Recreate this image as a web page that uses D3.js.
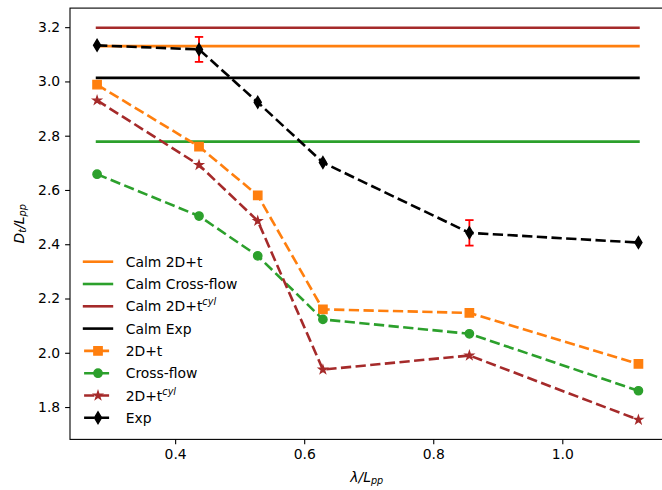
<!DOCTYPE html>
<html>
<head>
<meta charset="utf-8">
<script src="https://cdn.jsdelivr.net/npm/d3@7"></script>
<style>
body { margin: 0; background: #fff; }
svg { display: block; font-family: "DejaVu Sans", sans-serif; }
</style>
</head>
<body>
<div id="chart"></div>
<script>
// Wavelength ratios (x) shared by all series
const lambdas = [0.279, 0.437, 0.528, 0.629, 0.856, 1.118];

// Wave cases
const d2t = [2.988, 2.760, 2.580, 2.160, 2.147, 1.959];
const crossFlow = [2.658, 2.504, 2.357, 2.123, 2.070, 1.860];
const d2tCyl = [2.930, 2.692, 2.486, 1.938, 1.990, 1.753];
const expVals = [3.133, 3.118, 2.923, 2.701, 2.442, 2.406];
const expErr = [null, 0.046, null, null, 0.047, null];

// Calm water reference levels
const calmNames = ["Calm 2D+t", "Calm Cross-flow", "Calm 2D+t^cyl", "Calm Exp"];
const calmVals = [3.130, 2.778, 3.198, 3.013];

const yTicks = [1.8, 2.0, 2.2, 2.4, 2.6, 2.8, 3.0, 3.2];
const xTicks = [0.4, 0.6, 0.8, 1.0];

const width = 662, height = 490;
const fontSize = 13.9;
const lw = 2.6;
const dash = "10.3,4.4";

const colors = {
    orange: "#ff7f0e",
    green: "#2ca02c",
    brown: "#a52a2a",
    black: "#000000"
};

const series = [
    { name: "2D+t", values: d2t, color: colors.orange, marker: "square" },
    { name: "Cross-flow", values: crossFlow, color: colors.green, marker: "circle" },
    { name: "2D+t^cyl", values: d2tCyl, color: colors.brown, marker: "star" },
    { name: "Exp", values: expVals, color: colors.black, marker: "diamond" }
];
const calmColors = [colors.orange, colors.green, colors.brown, colors.black];

// Axis limits with matplotlib-like 5% margins
const xMin = d3.min(lambdas), xMax = d3.max(lambdas);
const xPad = (xMax - xMin) * 0.05;
const allY = calmVals.concat(d2t, crossFlow, d2tCyl, expVals);
const yMin = d3.min(allY), yMax = d3.max(allY);
const yPad = (yMax - yMin) * 0.05;

const plotLeft = 70, plotRight = 665.5, plotTop = 8.1, plotBottom = 439.4;

const x = d3.scaleLinear().domain([xMin - xPad, xMax + xPad]).range([plotLeft, plotRight]);
const y = d3.scaleLinear().domain([yMin - yPad, yMax + yPad]).range([plotBottom, plotTop]);

const svg = d3.select("#chart")
    .append("svg")
    .attr("width", width)
    .attr("height", height);

// Marker path builder (sizes follow matplotlib markersize 6 at 100 dpi)
function markerPath(type) {
    const s = 8.33;
    if (type === "square") {
        const h = s / 2;
        return `M${-h},${-h}H${h}V${h}H${-h}Z`;
    }
    if (type === "circle") {
        const r = s / 2;
        return `M${r},0A${r},${r} 0 1,1 ${-r},0A${r},${r} 0 1,1 ${r},0Z`;
    }
    if (type === "star") {
        const R = s / 2, r = R * 0.381966;
        let p = "";
        for (let k = 0; k < 10; k++) {
            const rad = k % 2 === 0 ? R : r;
            const a = -Math.PI / 2 + k * Math.PI / 5;
            p += (k === 0 ? "M" : "L") + (rad * Math.cos(a)).toFixed(2) + "," + (rad * Math.sin(a)).toFixed(2);
        }
        return p + "Z";
    }
    // thin diamond
    const hh = s * Math.SQRT2 / 2, hw = hh * 0.6;
    return `M0,${-hh}L${hw},0L0,${hh}L${-hw},0Z`;
}

// Write a label that may hold a "^sup" part
function writeLabel(sel, label) {
    const parts = label.split("^");
    sel.append("tspan").text(parts[0]);
    if (parts.length > 1) {
        sel.append("tspan")
            .attr("font-size", 9.7)
            .attr("font-style", "italic")
            .attr("dy", -6)
            .text(parts[1]);
    }
}

// Axes
const xAxis = d3.axisBottom(x).tickValues(xTicks).tickFormat(d3.format(".1f"))
    .tickSize(4.9).tickPadding(4.9).tickSizeOuter(0);
const yAxis = d3.axisLeft(y).tickValues(yTicks).tickFormat(d3.format(".1f"))
    .tickSize(4.9).tickPadding(4.9).tickSizeOuter(0);

const gx = svg.append("g").attr("transform", `translate(0,${plotBottom})`).call(xAxis);
const gy = svg.append("g").attr("transform", `translate(${plotLeft},0)`).call(yAxis);
[gx, gy].forEach(g => {
    g.select(".domain").remove();
    g.selectAll(".tick line").attr("stroke", "#000").attr("stroke-width", 1.1);
    g.selectAll(".tick text")
        .attr("fill", "#000")
        .attr("font-size", fontSize)
        .attr("font-family", "DejaVu Sans, sans-serif");
});

// Calm water horizontal levels
const line = d3.line().x((d) => x(d[0])).y((d) => y(d[1]));
calmVals.forEach((v, i) => {
    svg.append("path")
        .attr("d", line([[xMin, v], [xMax, v]]))
        .attr("fill", "none")
        .attr("stroke", calmColors[i])
        .attr("stroke-width", lw)
        .attr("stroke-linecap", "square");
});

// Error bars for the experiments
const errIdx = expErr.map((e, i) => i).filter((i) => expErr[i] !== null);
const eb = svg.append("g").attr("stroke", "#ff0000").attr("stroke-width", 1.8);
errIdx.forEach((i) => {
    const cx = x(lambdas[i]);
    const y0 = y(expVals[i] - expErr[i]), y1 = y(expVals[i] + expErr[i]);
    eb.append("line").attr("x1", cx).attr("x2", cx).attr("y1", y0).attr("y2", y1);
    eb.append("line").attr("x1", cx - 4.2).attr("x2", cx + 4.2).attr("y1", y0).attr("y2", y0);
    eb.append("line").attr("x1", cx - 4.2).attr("x2", cx + 4.2).attr("y1", y1).attr("y2", y1);
});

// Wave series: dashed lines with markers
series.forEach((s) => {
    const pts = lambdas.map((l, i) => [l, s.values[i]]);
    svg.append("path")
        .attr("d", line(pts))
        .attr("fill", "none")
        .attr("stroke", s.color)
        .attr("stroke-width", lw)
        .attr("stroke-dasharray", dash);
    svg.selectAll(null)
        .data(pts)
        .enter()
        .append("path")
        .attr("d", markerPath(s.marker))
        .attr("transform", (d) => `translate(${x(d[0])},${y(d[1])})`)
        .attr("fill", s.color)
        .attr("stroke", s.color)
        .attr("stroke-width", 1.39)
        .attr("stroke-linejoin", "miter");
});

// Frame
svg.append("rect")
    .attr("x", plotLeft).attr("y", plotTop)
    .attr("width", plotRight - plotLeft).attr("height", plotBottom - plotTop)
    .attr("fill", "none")
    .attr("stroke", "#000")
    .attr("stroke-width", 1.1);

// Legend
const legendItems = calmNames.map((n, i) => ({ name: n, color: calmColors[i], marker: null }))
    .concat(series.map((s) => ({ name: s.name, color: s.color, marker: s.marker })));
const legTop = 261.7, legStep = 22.3, hx0 = 84.1, hx1 = 111.9, textX = 125.7;
legendItems.forEach((d, i) => {
    const ly = legTop + i * legStep;
    const g = svg.append("g");
    g.append("line")
        .attr("x1", hx0).attr("x2", hx1).attr("y1", ly).attr("y2", ly)
        .attr("stroke", d.color)
        .attr("stroke-width", lw)
        .attr("stroke-linecap", d.marker ? "butt" : "square")
        .attr("stroke-dasharray", d.marker ? dash : null);
    if (d.marker) {
        g.append("path")
            .attr("d", markerPath(d.marker))
            .attr("transform", `translate(${(hx0 + hx1) / 2},${ly})`)
            .attr("fill", d.color)
            .attr("stroke", d.color)
            .attr("stroke-width", 1.39);
    }
    const t = g.append("text")
        .attr("x", textX)
        .attr("y", ly + 5)
        .attr("font-size", fontSize)
        .attr("fill", "#000");
    writeLabel(t, d.name);
});

// Axis labels (mathtext style)
const xl = svg.append("text")
    .attr("x", (plotLeft + plotRight) / 2 - 1)
    .attr("y", 481.5)
    .attr("text-anchor", "middle")
    .attr("font-size", fontSize)
    .attr("font-style", "italic");
xl.append("tspan").text("λ/L");
xl.append("tspan").attr("font-size", 9.7).attr("dy", 2.8).text("pp");

const yl = svg.append("text")
    .attr("transform", `translate(23.5,${(plotTop + plotBottom) / 2}) rotate(-90)`)
    .attr("text-anchor", "middle")
    .attr("font-size", fontSize)
    .attr("font-style", "italic");
yl.append("tspan").text("D");
yl.append("tspan").attr("font-size", 9.7).attr("dy", 2.8).text("t");
yl.append("tspan").attr("dy", -2.8).text("/L");
yl.append("tspan").attr("font-size", 9.7).attr("dy", 2.8).text("pp");
</script>
</body>
</html>
